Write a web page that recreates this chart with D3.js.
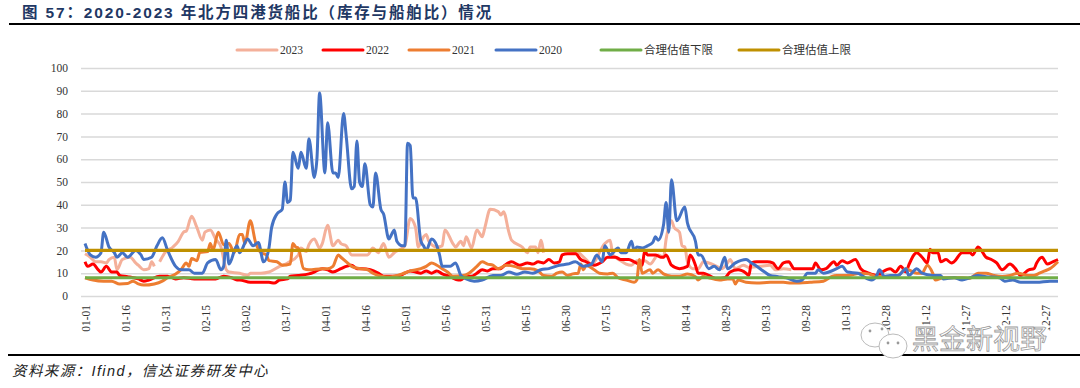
<!DOCTYPE html>
<html>
<head>
<meta charset="utf-8">
<script src="https://cdn.jsdelivr.net/npm/d3@7"></script>
<style>
  html, body { margin: 0; padding: 0; background: #fff; overflow: hidden; }
  .axis text { font-family: "Liberation Serif", serif; font-size: 11.5px; fill: #333; }
  .axis path { display: none; }
  .axis line { stroke: none; }
  .y-axis line { stroke: #d9d9d9; stroke-width: 1.5; }
  .legend text { font-family: "Liberation Serif", "Noto Sans CJK SC", serif; font-size: 11.5px; fill: #333; }
</style>
</head>
<body>
<div id="chart"></div>
<script>
var tickLabels = ["01-01","01-16","01-31","02-15","03-02","03-17","04-01","04-16","05-01","05-16","05-31","06-15","06-30","07-15","07-30","08-14","08-29","09-13","09-28","10-13","10-28","11-12","11-27","12-12","12-27"];
var yTicks = [0,10,20,30,40,50,60,70,80,90,100];

// days counted from 01-01
var days2020 = [0,2,4,6,7,9,11,12,14,16,19,21,22,25,27,29,31,34,36,39,41,44,46,49,51,52,53,54,57,58,61,63,65,67,69,70,72,74,75,76,77,78,80,81,83,84,86,87,88,90,91,93,94,95,97,98,100,101,102,103,104,105,107,108,109,111,112,114,115,116,117,119,120,121,122,123,124,126,127,128,130,132,133,134,137,139,141,143,146,149,153,156,159,162,165,168,171,174,178,181,184,187,190,192,194,195,197,200,201,203,205,206,207,209,211,213,214,215,217,218,219,220,222,225,226,229,230,231,234,236,238,240,241,244,248,250,252,255,257,260,263,267,269,271,274,275,277,279,282,284,286,290,292,295,297,298,300,302,305,308,309,312,314,318,321,322,326,329,332,335,338,343,345,348,351,354,357,362,365];
var vals2020 = [23,18,17,19,28,21.5,19,17,19,17,20,18,16,17,22,25.5,20,13,11.5,11.5,10,10,14.5,16,11.5,13,24.5,14,22,19,25,22,23.5,15,21,30,36,38,50,41,42,63,56,63,56,69,52,60,89,54,76,54,54,52,80,70,47,48,68,50,48,58,40,39,54,38,36,25,27,29,24,22,22,67,66,43,43,24,22,20,25,22,18,13,13,14.5,9,7.5,6.5,7,9,9,10.5,9.5,10.5,10,11.5,12,13.5,14,15,13,14,18,15,22,18,21,19,19,24,20,21.5,21,22,23.5,26,24.5,31,41,28,51,33,39,32,24,18,18,12,13,11.5,17,12,14.5,16,14.5,13,10.5,9,8.5,8,6.5,7,10,10,11.5,10,10.5,12,13,10.5,10,8.5,7,9,11.5,8.5,9,9,12,9,12,10,9,9,7.5,8,7,8,9,8.5,8,6.5,7,6,6,6,6.5,6.5];

var days2021 = [0,3,7,10,13,16,18,20,22,26,29,31,34,36,38,39,40,42,43,46,47,48,50,52,54,56,58,59,60,62,64,66,68,69,72,74,77,78,79,80,82,84,89,91,93,95,96,99,100,103,106,108,111,113,116,119,122,126,128,130,132,134,136,138,142,144,147,149,151,153,155,158,161,164,167,170,172,175,177,179,181,183,185,186,187,188,191,193,196,198,200,203,206,207,208,209,212,213,215,217,220,223,226,229,230,232,234,238,241,243,244,245,248,252,257,262,265,268,272,277,280,282,286,291,294,297,302,305,308,309,312,314,316,318,319,322,326,329,332,335,338,341,344,347,350,354,356,358,360,362,365];
var vals2021 = [8,7,6.5,6.5,5.3,5.5,6.5,5.3,4.8,5.3,6.5,8,9.7,11.5,14.5,13,16.5,15.5,19,19.5,23,20,28,22.5,23,19,27,27,23,33,23.5,19,18,15.5,15,13.5,14,23,21.5,21,12,11.5,12,12,13,18,17,14,13,12,11.5,10,8.7,8.3,8.7,9.7,11,12,13,14.5,13.5,12,10.5,8.7,9,10,13,15,14,13.5,12,13.5,13,12,12,11,9,8.7,10,10.5,9,9.7,10,14,11.5,13.5,11.5,10,9.7,10,8,7,6,7,16,10,11.5,10,11.5,9.7,8.7,8.7,9.7,8.5,7,8.7,8,7,7.5,7.5,5.3,7,6,5.7,6,6,5.7,5.7,6,6.5,8.5,9,9,10,9.7,8.5,8.5,9,12,11.5,10,10,13.5,10,7,8,8,8,7.8,10,10,9,8.5,9,10,9,9,10,11,12,15];

var days2022 = [0,1,3,5,6,8,10,12,13,16,20,22,24,28,31,34,37,41,45,49,52,55,57,58,62,66,69,71,73,76,77,80,84,86,89,91,93,96,98,100,102,104,107,110,112,116,118,120,122,124,126,128,130,132,134,137,140,141,143,145,147,149,151,153,156,157,160,163,166,168,170,172,174,176,178,179,181,184,186,188,191,194,196,199,201,204,206,209,210,211,214,216,217,218,220,223,226,227,229,230,232,234,237,240,242,245,248,249,250,252,256,258,260,262,264,266,269,273,274,276,278,281,282,284,286,289,291,294,297,299,302,304,306,308,309,312,314,316,317,318,320,321,323,325,326,329,332,333,335,338,340,342,344,347,349,351,354,356,357,359,361,363,365];
var vals2022 = [15,13,14,11.5,10.5,13,10.5,10.5,9,8.5,7.5,6.5,7,8.7,8.7,7.5,8,7.5,7.5,7.5,8.7,8,7,7,6,6,6,5.7,7,7.5,8.7,9,9.7,10.5,12,11.5,10.5,12,13,13.5,12,12,11.5,10,8.7,8.7,9,10,11,10.5,10,11,10,11,9.7,8.5,7,7,8.7,8.7,10,11.5,11,12,12,13,15,13.5,14.5,14,15,14.5,16,14.5,15,18,18.5,18.5,16,15,13.5,15,17,17,16,16,15,13.5,20,18,18,17,17,18,13.5,12,13,18,13.5,10,10,9,7.5,8,10.5,11.5,10,9,14.5,15,15,14.5,12,14.5,15,12,12,12,14.5,11.5,12,15,13.5,15.5,14.5,16,12,10,9,10.5,12,10.5,13,10.5,13.5,19,17,14.5,20.5,19,19,15,16,14.5,15,19,19,18,21.5,17,16,14.5,11.5,14,12,9,11.5,12,14.5,17,14,15,16];

// null marks the breaks in the 2023 line
var days2023 = [0,2,4,6,8,9,11,12,14,17,19,20,22,24,25,26,27,28,30,33,35,37,38,40,42,44,45,47,49,51,53,54,58,61,62,66,69,73,76,80,81,83,84,86,88,89,91,93,95,96,98,100,104,106,108,110,112,114,116,119,120,122,124,125,127,128,129,132,134,135,138,139,141,142,143,145,147,149,150,152,155,156,157,159,160,164,166,167,169,170,171,172,173,181,185,188,190,195,197,198,201,203,205,207,210,212,215,217,218,220,221,223,224,225,226,228,230,232,234,237,239,241,242,244,247,249,253,257,259,262,265];
var vals2023 = [18.5,17,15,15,14.5,16,17,11.5,16,17,14.5,13.5,11.5,12,15,13,null,15,19,21.5,24,28,28.5,35,30,24.5,28,29,25,21.5,11.5,10.5,10,9,10,10,10.5,13,14.5,18,21,19.5,22.5,25,21,23,31,22,24.5,23,22,18,18,18,21,19,23,17,19,21,22,34,30,21.5,26,27,24,21.5,22,29,23,21.5,24,22,26,21,29,26,30,38,37,35.5,37,28,24.5,21.5,19,21.5,21.5,19,24.5,19,null,20,19,16,14,23,24.5,18,15.5,14,13.5,15.5,15.5,14,18,17,25,33,30,28,22,21.5,15,12,12,15,14.5,13,12,14.5,16,12,13.5,12.5,13,13.5,11.5,12,11.5];

var lowerDays = [0,365];
var lowerVals = [8,8];
var upperDays = [0,365];
var upperVals = [20,20];

var seriesNames = ["2023","2022","2021","2020","合理估值下限","合理估值上限"];
var seriesColors = ["#f4b09a","#ff0000","#ed7d31","#4472c4","#70ad47","#bf9000"];
var seriesDays = [days2023,days2022,days2021,days2020,lowerDays,upperDays];
var seriesVals = [vals2023,vals2022,vals2021,vals2020,lowerVals,upperVals];
var legendX = [237,323,409,496,601,739];

var width = 1080, height = 388;

var svg = d3.select("#chart").append("svg")
    .attr("width", width)
    .attr("height", height)
    .style("display", "block");

// title and rules
svg.append("text")
    .attr("x", 22)
    .attr("y", 18)
    .style("font-family", "'Liberation Sans','Noto Sans CJK SC',sans-serif")
    .style("font-weight", "bold")
    .style("font-size", "15.5px")
    .style("letter-spacing", "1.85px")
    .style("fill", "#1f3864")
    .text("图 57：2020-2023 年北方四港货船比（库存与船舶比）情况");

svg.append("line").attr("x1", 9).attr("x2", 1080).attr("y1", 24).attr("y2", 24)
    .attr("stroke", "#000").attr("stroke-width", 2);
svg.append("line").attr("x1", 8).attr("x2", 1080).attr("y1", 355).attr("y2", 355)
    .attr("stroke", "#000").attr("stroke-width", 2);

svg.append("text")
    .attr("x", 12)
    .attr("y", 376)
    .style("font-family", "'Liberation Sans','Noto Sans CJK SC',sans-serif")
    .style("font-style", "italic")
    .style("font-size", "14.5px")
    .style("letter-spacing", "1.4px")
    .style("fill", "#222")
    .text("资料来源：Ifind，信达证券研发中心");

// scales
var x = d3.scaleLinear().domain([0, 365]).range([85, 1058]);
var y = d3.scaleLinear().domain([0, 100]).range([296, 68]);

var yAxis = d3.axisLeft(y)
    .tickValues(yTicks)
    .tickSize(-977)
    .tickPadding(13);

svg.append("g")
    .attr("class", "axis y-axis")
    .attr("transform", "translate(81,0)")
    .call(yAxis);

var xAxis = d3.axisBottom(x)
    .tickValues(tickLabels.map(function(d, i) { return i * 15; }))
    .tickFormat(function(d, i) { return tickLabels[i]; })
    .tickSize(0);

var gx = svg.append("g")
    .attr("class", "axis x-axis")
    .attr("transform", "translate(0,296)")
    .call(xAxis);

gx.selectAll("text")
    .attr("transform", "rotate(-90)")
    .attr("x", -9)
    .attr("y", 1)
    .attr("dy", "0.32em")
    .style("text-anchor", "end");

// lines
seriesNames.forEach(function(name, s) {
    var rows = seriesDays[s].map(function(d, i) { return {day: d, val: seriesVals[s][i]}; });
    var line = d3.line()
        .defined(function(d) { return d.val !== null; })
        .x(function(d) { return x(d.day); })
        .y(function(d) { return y(d.val); })
        .curve(s < 4 ? d3.curveMonotoneX : d3.curveLinear);

    svg.append("path")
        .datum(rows)
        .attr("fill", "none")
        .attr("stroke", seriesColors[s])
        .attr("stroke-width", s < 4 ? 3 : 3.2)
        .attr("stroke-linejoin", "round")
        .attr("d", line);
});

// legend
var legend = svg.append("g").attr("class", "legend");
seriesNames.forEach(function(name, s) {
    legend.append("line")
        .attr("x1", legendX[s]).attr("x2", legendX[s] + 40)
        .attr("y1", 50).attr("y2", 50)
        .attr("stroke", seriesColors[s])
        .attr("stroke-width", 3)
        .attr("stroke-linecap", "round");
    legend.append("text")
        .attr("x", legendX[s] + 43)
        .attr("y", 54)
        .text(name);
});

// watermark over the lower right corner
var mark = svg.append("g");
[[875, 335, 14, 12], [893, 346, 14, 12]].forEach(function(e) {
    mark.append("ellipse")
        .attr("cx", e[0]).attr("cy", e[1]).attr("rx", e[2]).attr("ry", e[3])
        .attr("fill", "#fff")
        .attr("stroke", "#bbb")
        .attr("stroke-width", 1);
});
mark.selectAll("circle")
    .data([[870, 331], [882, 329], [888, 343], [898, 343]])
    .enter().append("circle")
    .attr("cx", function(d) { return d[0]; })
    .attr("cy", function(d) { return d[1]; })
    .attr("r", 1.4)
    .attr("fill", "#999");
mark.append("text")
    .attr("x", 912)
    .attr("y", 349)
    .style("font-family", "'Noto Sans CJK SC',sans-serif")
    .style("font-size", "27px")
    .style("fill", "#fff")
    .style("stroke", "#fff")
    .style("stroke-width", 5)
    .style("stroke-linejoin", "round")
    .text("黑金新视野");
mark.append("text")
    .attr("x", 912)
    .attr("y", 349)
    .style("font-family", "'Noto Sans CJK SC',sans-serif")
    .style("font-size", "27px")
    .style("fill", "#fff")
    .style("stroke", "#999")
    .style("stroke-width", 0.8)
    .text("黑金新视野");
</script>
</body>
</html>
